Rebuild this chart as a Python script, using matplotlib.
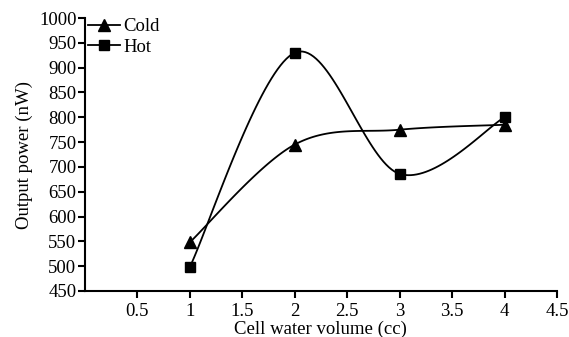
import numpy as np
import matplotlib
matplotlib.use("Agg")
import matplotlib.pyplot as plt

plt.rcParams['font.family'] = ['Liberation Serif', 'DejaVu Serif']

volume = [1, 2, 3, 4]
cold = [548, 745, 775, 785]
hot = [498, 930, 686, 800]
xticks = [0.5, 1, 1.5, 2, 2.5, 3, 3.5, 4, 4.5]
yticks = list(range(450, 1001, 50))


def smooth(xs, ys, n=40, t=0.5):
    xs = np.asarray(xs, float)
    ys = np.asarray(ys, float)
    px = np.concatenate([[xs[0]], xs, [xs[-1]]])
    py = np.concatenate([[ys[0]], ys, [ys[-1]]])
    ox, oy = [], []
    for i in range(1, len(px) - 2):
        p0 = np.array([px[i - 1], py[i - 1]])
        p1 = np.array([px[i], py[i]])
        p2 = np.array([px[i + 1], py[i + 1]])
        p3 = np.array([px[i + 2], py[i + 2]])
        m1 = t * (p2 - p0)
        m2 = t * (p3 - p1)
        s = np.linspace(0, 1, n)[:, None]
        h00 = 2 * s**3 - 3 * s**2 + 1
        h10 = s**3 - 2 * s**2 + s
        h01 = -2 * s**3 + 3 * s**2
        h11 = s**3 - s**2
        pts = h00 * p1 + h10 * m1 + h01 * p2 + h11 * m2
        ox.extend(pts[:, 0])
        oy.extend(pts[:, 1])
    return np.array(ox), np.array(oy)


fig = plt.figure(figsize=(5.69, 3.37), dpi=100)
ax = fig.add_axes([0.149, 0.1365, 0.83, 0.81])

cx, cy = smooth(volume, cold)
hx, hy = smooth(volume, hot)
ax.plot(cx, cy, color='black', lw=1.3)
ax.plot(hx, hy, color='black', lw=1.3)
ax.plot(volume, cold, linestyle='none', marker='^', color='black', markersize=8.5)
ax.plot(volume, hot, linestyle='none', marker='s', color='black', markersize=7.5)

# legend handles
ax.plot([], [], color='black', marker='^', markersize=8.5, lw=1.3, label='Cold')
ax.plot([], [], color='black', marker='s', markersize=7.5, lw=1.3, label='Hot')
leg = ax.legend(loc='upper left', frameon=False, fontsize=13.5, handlelength=1.75,
                handletextpad=0.15, borderaxespad=0.0, borderpad=0.0,
                labelspacing=0.2, bbox_to_anchor=(0.006, 1.0))

ax.set_xlim(0, 4.5)
ax.set_ylim(450, 1000)
ax.set_xticks(xticks)
ax.set_xticklabels([f'{v:g}' for v in xticks])
ax.set_yticks(yticks)
ax.spines['top'].set_visible(False)
ax.spines['right'].set_visible(False)
ax.spines['left'].set_linewidth(1.5)
ax.spines['bottom'].set_linewidth(1.5)
ax.tick_params(direction='out', length=5, width=1.5, labelsize=13.5, pad=1)
ax.tick_params(axis='x', pad=4)
ax.set_xlabel('Cell water volume (cc)', fontsize=13.5, labelpad=0)
ax.set_ylabel('Output power (nW)', fontsize=13.5, labelpad=4)

fig.savefig('out.png', dpi=100)
